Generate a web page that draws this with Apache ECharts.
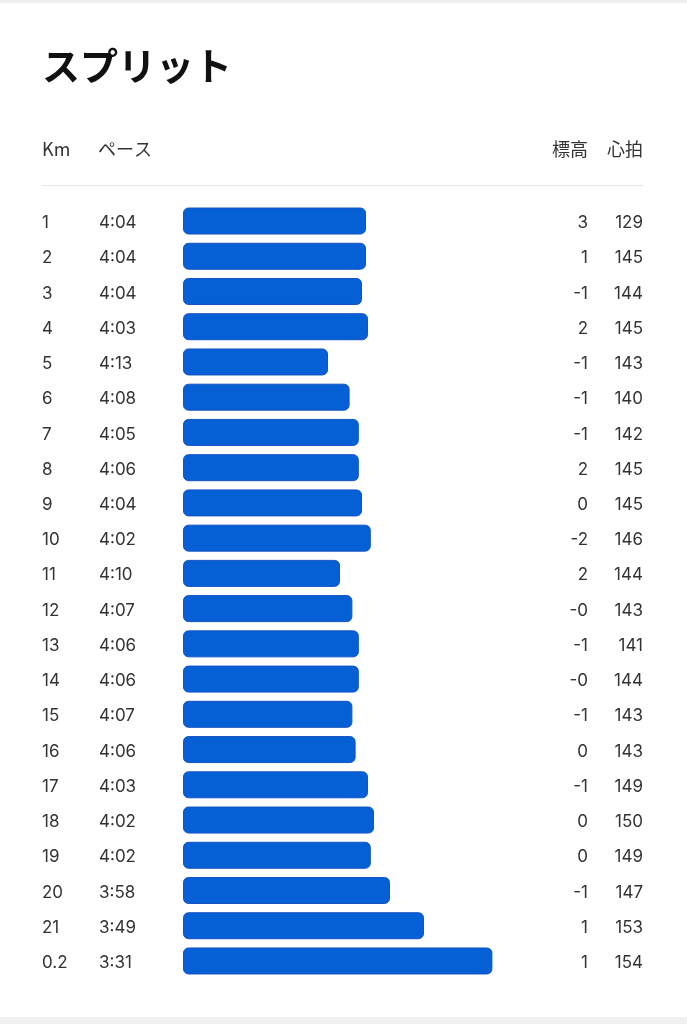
<!DOCTYPE html>
<html><head><meta charset="utf-8">
<script src="https://cdn.jsdelivr.net/npm/echarts@6/dist/echarts.min.js"></script>
<style>html,body{margin:0;padding:0;background:#fff}#c{width:687px;height:1024px}</style>
</head><body><div id="c"></div>
<script>
const kmLabels = ['1','2','3','4','5','6','7','8','9','10','11','12','13','14','15','16','17','18','19','20','21','0.2'];
const paceLabels = ['4:04','4:04','4:04','4:03','4:13','4:08','4:05','4:06','4:04','4:02','4:10','4:07','4:06','4:06','4:07','4:06','4:03','4:02','4:02','3:58','3:49','3:31'];
// precise pace in seconds per km
const paceSeconds = [243.5,243.5,244.5,243,253,247.6,245.3,245.3,244.5,242.3,250,246.9,245.3,245.3,246.9,246.1,243,241.5,242.3,237.5,229,211.9];
const elevation = ['3','1','-1','2','-1','-1','-1','2','0','-2','2','-0','-1','-0','-1','0','-1','0','0','-1','1','1'];
const heartRate = ['129','145','144','145','143','140','142','145','145','146','144','143','141','144','143','143','149','150','149','147','153','154'];
const PACE_REF = 289.25; // slowest pace at which bar length would be zero

const chart = echarts.init(document.getElementById('c'), null, {renderer:'canvas'});
const txt = {color:'#333', fontFamily:'Inter, "Noto Sans", "Noto Sans CJK JP", sans-serif', fontSize:17};
const cats = kmLabels.map((k,i)=>String(i));
function catAxis(pos, labels, align, margin){
  return {type:'category', data:cats, inverse:true, position:pos, axisLine:{show:false}, axisTick:{show:false}, splitLine:{show:false},
    axisLabel:{formatter:(v)=>'{t|' + labels[+v] + '}', align:align, margin:margin,
      rich:{t:Object.assign({padding:[4,0,0,0]}, txt)}}};
}
const hdr = '18px "Noto Sans CJK JP", sans-serif';
chart.setOption({
  backgroundColor:'#fff',
  animation:false,
  title:{text:'スプリット', left:37, top:42, textStyle:{fontFamily:'"Noto Sans CJK JP", sans-serif', fontWeight:'bold', fontSize:38, color:'#111'}},
  grid:{left:183, width:400, top:203.4, height:775.2, containLabel:false},
  xAxis:{type:'value', min:0, max:100, show:false},
  yAxis:[
    catAxis('left', kmLabels, 'left', 141),
    catAxis('left', paceLabels, 'left', 84),
    catAxis('right', elevation, 'right', 5),
    catAxis('right', heartRate, 'right', 60)
  ],
  series:[{
    type:'bar', yAxisIndex:0, barWidth:27,
    data: paceSeconds.map(p=>+(PACE_REF - p).toFixed(2)),
    itemStyle:{color:'#0560d6', borderColor:'#1553c2', borderWidth:1, borderRadius:5}
  }],
  graphic:[
    {type:'rect', shape:{x:0,y:0,width:687,height:3}, style:{fill:'#eeeeee'}},
    {type:'rect', shape:{x:0,y:1017,width:687,height:7}, style:{fill:'#f0f0f0'}},
    {type:'line', shape:{x1:42,y1:185.5,x2:643,y2:185.5}, style:{stroke:'#e6e6e6', lineWidth:1}},
    {type:'text', left:42, top:140, style:{text:'Km', fill:'#333', font:hdr}},
    {type:'text', left:98, top:140, style:{text:'ペース', fill:'#333', font:hdr}},
    {type:'text', right:99, top:140, style:{text:'標高', fill:'#333', font:hdr}},
    {type:'text', right:44, top:140, style:{text:'心拍', fill:'#333', font:hdr}}
  ]
});
</script></body></html>
